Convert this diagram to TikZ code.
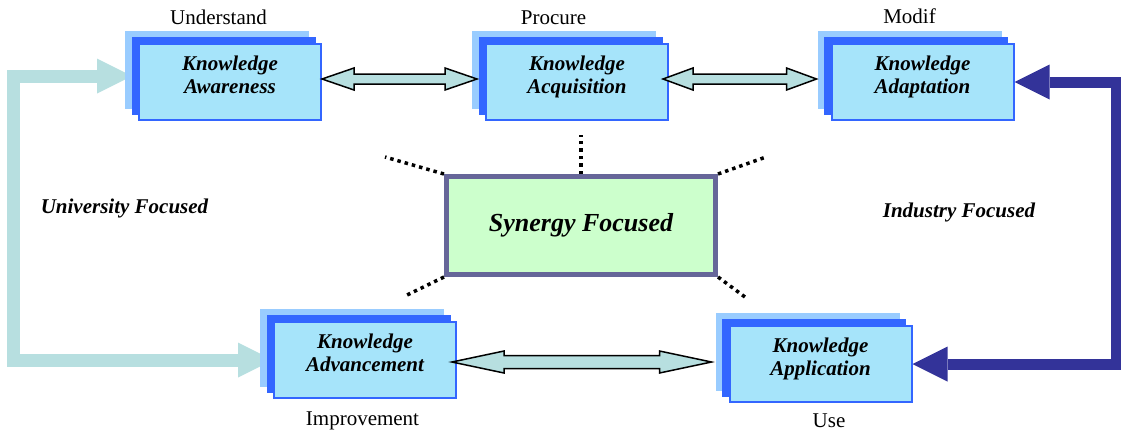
\documentclass[tikz,border=0pt]{standalone}
\usepackage{fontspec}
\setmainfont{Liberation Serif}
\usetikzlibrary{calc,arrows.meta,backgrounds}

\definecolor{stackback}{RGB}{153,204,255}
\definecolor{stackmid}{RGB}{51,102,255}
\definecolor{stackfront}{RGB}{166,228,250}
\definecolor{uniteal}{RGB}{183,223,224}
\definecolor{indnavy}{RGB}{51,51,153}
\definecolor{synborder}{RGB}{102,102,153}
\definecolor{synfill}{RGB}{204,255,204}

% outlined horizontal double arrow: from, to, head length, head half-width, shaft half-width
\newcommand\fatdbl[5]{%
  \draw[dblarrow] (#1) -- ($(#1)+(#3,-#4)$) -- ($(#1)+(#3,-#5)$)
    -- ($(#2)+(-#3,-#5)$) -- ($(#2)+(-#3,-#4)$) -- (#2)
    -- ($(#2)+(-#3,#4)$) -- ($(#2)+(-#3,#5)$)
    -- ($(#1)+(#3,#5)$) -- ($(#1)+(#3,#4)$) -- cycle;}

\begin{document}
\begin{tikzpicture}[x=1pt,y=-1pt,
  kbox/.style={draw=stackmid, line width=2pt, fill=stackfront,
    minimum width=182pt, minimum height=76pt, inner sep=0pt, align=center,
    font=\bfseries\itshape\fontsize{21}{23}\selectfont,
    execute at begin node={\rule{0pt}{15pt}},
    execute at end node={\rule[-14pt]{0pt}{14pt}}},
  synbox/.style={draw=synborder, line width=5pt, fill=synfill,
    minimum width=269pt, minimum height=98pt, inner sep=0pt,
    font=\bfseries\itshape\fontsize{26}{30}\selectfont},
  lbl/.style={anchor=base, inner sep=0pt, font=\fontsize{21}{24}\selectfont},
  sidelbl/.style={anchor=base, inner sep=0pt, font=\bfseries\itshape\fontsize{21}{24}\selectfont},
  dblarrow/.style={draw=black, line width=1.5pt, fill=uniteal, line join=miter},
  dotline/.style={line width=3.5pt, dash pattern=on 3.5pt off 4pt},
  flowarrow/.style={line width=#1, line join=miter,
    {Triangle[length=35pt,width=35pt,line width=0pt]}-{Triangle[length=35pt,width=35pt,line width=0pt]}},
]
\useasboundingbox (0,0) rectangle (1121,432);

% knowledge stages
\node[kbox] (aware) at (230,82) {Knowledge\\Awareness};
\node[kbox] (acq)   at (577,82) {Knowledge\\Acquisition};
\node[kbox] (adapt) at (922.5,82) {Knowledge\\Adaptation};
\node[kbox] (adv)   at (365,360) {Knowledge\\Advancement};
\node[kbox] (appl)  at (820.5,364) {Knowledge\\Application};

% stage captions
\node[lbl] (c-und)  at (218.5,24) {Understand};
\node[lbl] (c-proc) at (553.5,24) {Procure};
\node[lbl] (c-mod)  at (909.5,23) {Modif};
\node[lbl] (c-imp)  at (362.5,425) {Improvement};
\node[lbl] (c-use)  at (829,427) {Use};

% centre box
\node[synbox] (syn) at (581,225.5) {Synergy Focused};

% side captions
\node[sidelbl] (uni) at (124.5,213) {University Focused};
\node[sidelbl] (ind) at (959,217) {Industry Focused};

\begin{scope}[on background layer]
  % university loop (left) and industry loop (right)
  \coordinate (lcol) at (13.5,0);
  \coordinate (rcol) at (1116,0);
  \coordinate (ltop) at ($(aware.west)+(-6,-6)$);
  \draw[uniteal, flowarrow=13pt] (ltop) -- (ltop -| lcol) -- (adv.west -| lcol) -- (adv.west);
  \draw[indnavy, flowarrow=11pt] (adapt.east) -- (adapt.east -| rcol) -- (appl.east -| rcol) -- (appl.east);
  % stacked copies behind each stage
  \foreach \n in {aware,acq,adapt,adv,appl}{
    \fill[stackback] ($(\n.north west)+(-13,-12)$) rectangle ($(\n.south east)+(-13,-12)$);
    \fill[stackmid] ($(\n.north west)+(-6.5,-6.5)$) rectangle ($(\n.south east)+(-6.5,-6.5)$);
  }
\end{scope}

% exchanges between neighbouring stages
\coordinate (t1a) at ($(aware.east)+(0,-3)$);
\coordinate (t1b) at ($(acq.west)+(-8,-3)$);
\coordinate (t2a) at ($(acq.east)+(-6,-3)$);
\coordinate (t2b) at ($(adapt.west)+(-14,-3)$);
\coordinate (b1a) at ($(adv.east)+(-5,2)$);
\coordinate (b1b) at ($(appl.west)+(-17,-2)$);
\fatdbl{t1a}{t1b}{32}{11}{5}
\fatdbl{t2a}{t2b}{30}{11}{5}
\fatdbl{b1a}{b1b}{52}{11}{6.5}

% dotted rays from the centre box
\coordinate (r-n)  at (581,135);
\coordinate (r-nw) at (385,157);
\coordinate (r-ne) at (766,157);
\coordinate (r-sw) at (405,296);
\coordinate (r-se) at (745,297);
\draw[dotline] (syn.north) -- (r-n);
\draw[dotline] (syn.north west) -- (r-nw);
\draw[dotline] (syn.north east) -- (r-ne);
\draw[dotline] (syn.south west) -- (r-sw);
\draw[dotline] (syn.south east) -- (r-se);
\end{tikzpicture}
\end{document}
